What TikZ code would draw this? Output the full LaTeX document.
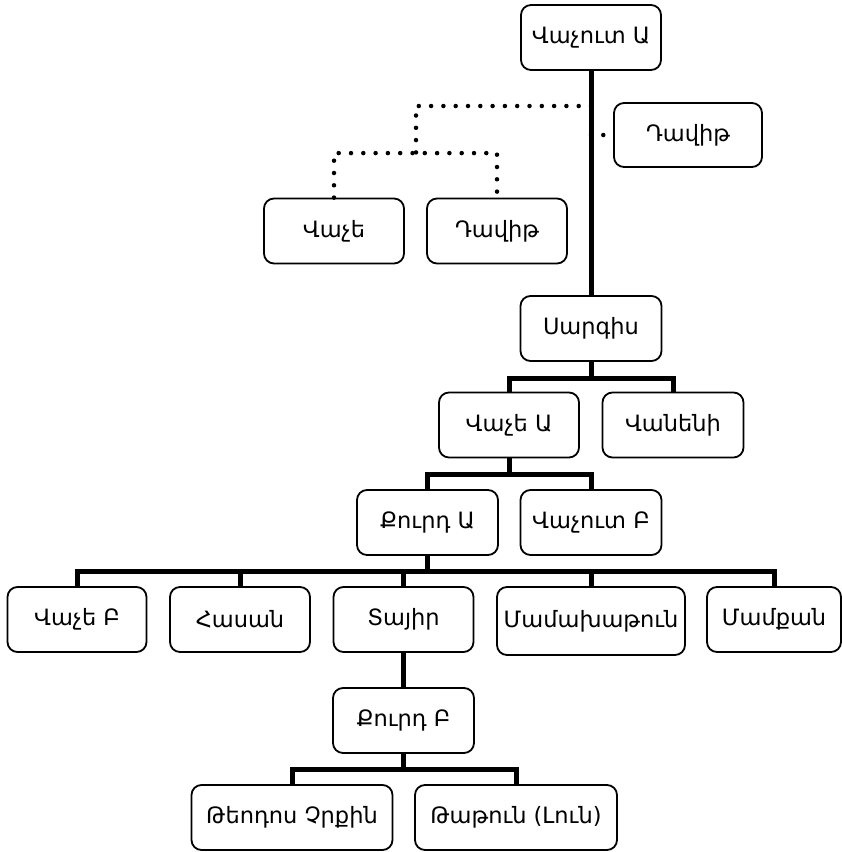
\documentclass[tikz,border=0pt]{standalone}
\usepackage{fontspec}
\setmainfont{DejaVu Sans}
\begin{document}
\begin{tikzpicture}[x=1pt,y=-1pt,
  person/.style={draw, line width=1.8pt, rounded corners=10pt, minimum height=65pt, inner sep=0pt, font=\fontsize{22.5}{26}\selectfont},
  tree/.style={line width=5pt},
  dots/.style={line width=4.5pt, line cap=round, dash pattern=on 0pt off 12.3pt}]
\useasboundingbox (0,0) rectangle (842,852);
\node[person, minimum width=140pt] (va) at (591,37.5) {Վաչուտ Ա};
\node[person, minimum width=148pt, minimum height=64pt] (dr) at (688,135) {Դավիթ};
\node[person, minimum width=140pt] (vc) at (334,231) {Վաչե};
\node[person, minimum width=140pt] (dl) at (497,231) {Դավիթ};
\node[person, minimum width=141pt] (sa) at (591,328.5) {Սարգիս};
\node[person, minimum width=140pt] (vaa) at (509,425) {Վաչե Ա};
\node[person, minimum width=141pt] (vn) at (673,425) {Վանենի};
\node[person, minimum width=141pt] (ka) at (427.5,522.5) {Քուրդ Ա};
\node[person, minimum width=141pt] (vb) at (591,522.5) {Վաչուտ Բ};
\node[person, minimum width=139pt] (vcb) at (77,619.5) {Վաչե Բ};
\node[person, minimum width=140pt] (ha) at (240,619.5) {Հասան};
\node[person, minimum width=140pt] (ta) at (403.5,619.5) {Տայիր};
\node[person, minimum width=188pt, minimum height=68pt] (mm) at (591,621) {Մամախաթուն};
\node[person, minimum width=134pt] (mq) at (774,619.5) {Մամքան};
\node[person, minimum width=141pt] (kb) at (403.5,720.5) {Քուրդ Բ};
\node[person, minimum width=201pt] (tc) at (292,817.5) {Թեոդոս Չրքին};
\node[person, minimum width=202pt] (tl) at (516,817.5) {Թաթուն (Լուն)};

\draw[tree] (va.south) -- (sa.north);
\coordinate (d1) at (591,106);
\coordinate (d2) at (591,135);
\draw[dots] (d1) -| (416,154);
\draw[dots] (vc.north) -- ++(0,-44.5) -| (dl.north);
\draw[dots] (d2) -- (dr.west);

\draw[tree] (sa.south) -- ++(0,17) -| (vaa.north);
\draw[tree] (sa.south) -- ++(0,17) -| (vn.north);
\draw[tree] (vaa.south) -- ++(0,16.5) -| (ka.north);
\draw[tree] (vaa.south) -- ++(0,16.5) -| (vb.north);
\foreach \n in {vcb,ha,ta,mm,mq}
  \draw[tree] (ka.south) -- ++(0,16) -| (\n.north);
\draw[tree] (ta.south) -- (kb.north);
\draw[tree] (kb.south) -- ++(0,16) -| (tc.north);
\draw[tree] (kb.south) -- ++(0,16) -| (tl.north);
\end{tikzpicture}
\end{document}
